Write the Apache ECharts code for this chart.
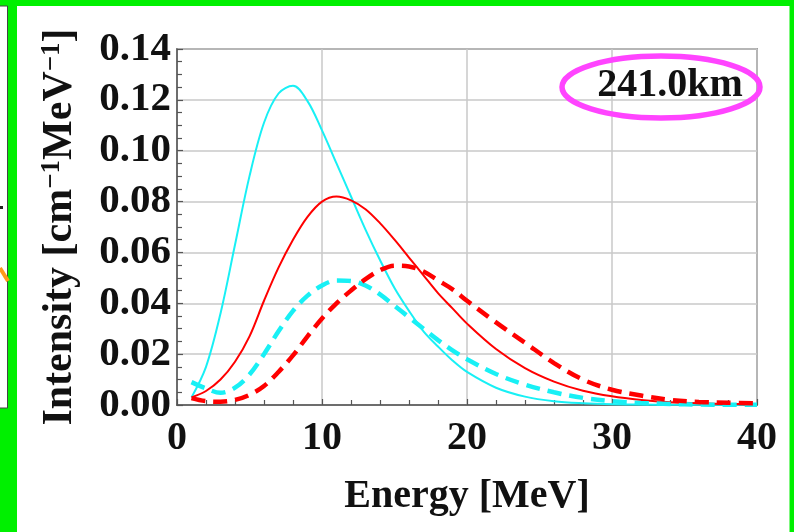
<!DOCTYPE html>
<html><head><meta charset="utf-8">
<script src="https://cdn.jsdelivr.net/npm/echarts@6/dist/echarts.min.js"></script>
<style>html,body{margin:0;padding:0;background:#fff}#c{width:794px;height:532px}</style>
</head><body><div id="c"></div>
<script>
const energy = [1,2,3,4,5,6,7,8,9,10,11,12,13,14,15,16,17,18,19,20,22,24,26,28,30,32,34,36,38,40];
const cyanSolid = [0.003,0.015,0.036,0.063,0.090,0.111,0.1225,0.1255,0.1195,0.108,0.095,0.082,0.069,0.057,0.046,0.037,0.029,0.023,0.0175,0.013,0.0068,0.0033,0.0015,0.0007,0.0003,0.0002,0.0001,0.0001,0.0001,0.0001];
const redSolid = [0.003,0.0055,0.010,0.017,0.027,0.041,0.054,0.065,0.074,0.080,0.082,0.0805,0.077,0.0715,0.065,0.058,0.051,0.044,0.038,0.032,0.022,0.0145,0.0092,0.0056,0.0034,0.002,0.0011,0.0007,0.0004,0.0003];
const cyanDashed = [0.009,0.0065,0.0048,0.0068,0.012,0.020,0.029,0.037,0.043,0.047,0.049,0.0488,0.047,0.0435,0.039,0.0345,0.030,0.0255,0.0215,0.018,0.0122,0.008,0.005,0.0028,0.0015,0.0008,0.0004,0.0002,0.0001,0.0001];
const redDashed = [0.0027,0.0015,0.0013,0.002,0.004,0.0075,0.013,0.0195,0.027,0.034,0.040,0.045,0.0495,0.053,0.0548,0.0545,0.0525,0.049,0.0455,0.041,0.0325,0.0245,0.0165,0.010,0.006,0.0037,0.002,0.0012,0.0009,0.0007];
const xTicks = [0,10,20,30,40];
const yTicks = [0,0.02,0.04,0.06,0.08,0.10,0.12,0.14];
const label = '241.0km';

const pair = arr => energy.map((e,i)=>[e,arr[i]]);
const FONT = 'Liberation Serif';
const chart = echarts.init(document.getElementById('c'), null, {renderer:'canvas'});
const green = '#00f000';
chart.setOption({
  animation:false,
  backgroundColor:'#fff',
  grid:{left:177,right:37,top:49,bottom:127,show:true,borderColor:'#555',borderWidth:1.5,backgroundColor:'transparent'},
  xAxis:{type:'value',min:xTicks[0],max:xTicks[xTicks.length-1],interval:10,
    name:'Energy [MeV]',nameLocation:'middle',nameGap:72,
    nameTextStyle:{fontFamily:FONT,fontWeight:'bold',fontSize:40,color:'#111'},
    axisLine:{lineStyle:{color:'#555',width:1.5}},
    axisTick:{inside:true,length:6,lineStyle:{color:'#555',width:1.2}},
    minorTick:{show:true,splitNumber:5,length:5,lineStyle:{color:'#555',width:1.2}},
    splitLine:{show:true,lineStyle:{color:'#c8c8c8',width:1.5}},
    axisLabel:{fontFamily:FONT,fontWeight:'bold',fontSize:40,color:'#111',margin:14}},
  yAxis:{type:'value',min:yTicks[0],max:yTicks[yTicks.length-1],interval:0.02,
    name:'Intensity [cm{s|\u22121}MeV{s|\u22121}]',nameLocation:'middle',nameGap:95,
    nameTextStyle:{fontFamily:FONT,fontWeight:'bold',fontSize:42,color:'#111',
      rich:{s:{fontFamily:FONT,fontWeight:'bold',fontSize:27,color:'#111',verticalAlign:'top',padding:[0,0,16,0]}}},
    axisLine:{lineStyle:{color:'#555',width:1.5}},
    axisTick:{inside:true,length:6,lineStyle:{color:'#555',width:1.2}},
    minorTick:{show:true,splitNumber:4,length:5,lineStyle:{color:'#555',width:1.2}},
    splitLine:{show:true,lineStyle:{color:'#c8c8c8',width:1.5}},
    axisLabel:{fontFamily:FONT,fontWeight:'bold',fontSize:41,color:'#111',margin:6,formatter:v=>v.toFixed(2)}},
  series:[
    {type:'line',data:pair(cyanSolid),smooth:0.35,showSymbol:false,lineStyle:{color:'#18f0f5',width:2}},
    {type:'line',data:pair(redSolid),smooth:0.35,showSymbol:false,lineStyle:{color:'#ff0000',width:2}},
    {type:'line',data:pair(cyanDashed),smooth:0.35,showSymbol:false,lineStyle:{color:'#18f0f5',width:4.5,type:[14,8]}},
    {type:'line',data:pair(redDashed),smooth:0.35,showSymbol:false,lineStyle:{color:'#ff0000',width:4.5,type:[14,8]}}
  ],
  graphic:[
    {type:'rect',shape:{x:0,y:0,width:794,height:6},style:{fill:green},silent:true},
    {type:'rect',shape:{x:8,y:0,width:9,height:532},style:{fill:green},silent:true},
    {type:'rect',shape:{x:0,y:408,width:17,height:124},style:{fill:green},silent:true},
    {type:'rect',shape:{x:789.5,y:0,width:5,height:532},style:{fill:green},silent:true},
    {type:'polyline',shape:{points:[[0,6],[7.5,6],[7.5,408],[0,408]]},style:{stroke:'#444',lineWidth:1,fill:null},silent:true},
    {type:'rect',shape:{x:0,y:206,width:3,height:3},style:{fill:'#222'},silent:true},
    {type:'line',shape:{x1:0,y1:268,x2:8,y2:281},style:{stroke:'#ff9a1a',lineWidth:4},silent:true},
    {type:'ellipse',shape:{cx:661,cy:87,rx:99,ry:31},style:{stroke:'#ff44ff',lineWidth:5.5,fill:null},silent:true,z:10},
    {type:'text',style:{x:670,y:86,text:label,fontFamily:FONT,fontWeight:'bold',fontSize:40,fill:'#111',textAlign:'center',textVerticalAlign:'middle'},silent:true,z:11}
  ]
});
</script></body></html>
